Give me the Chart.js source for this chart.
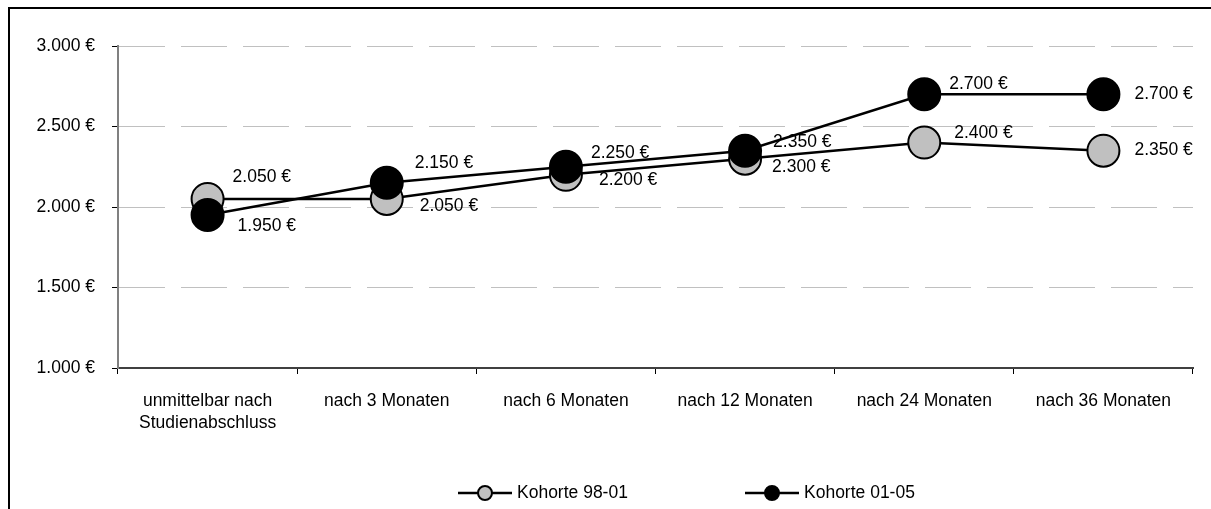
<!DOCTYPE html>
<html>
<head>
<meta charset="utf-8">
<script src="https://cdn.jsdelivr.net/npm/chart.js@4/dist/chart.umd.min.js"></script>
<style>
  html, body { margin: 0; padding: 0; background: #fff; overflow: hidden; }
  #wrap { position: relative; width: 1211px; height: 509px; }
  #frame { position: absolute; left: 8px; top: 7px; width: 1300px; height: 600px;
           border: 2px solid #000; pointer-events: none; }
  canvas { position: absolute; left: 0; top: 0; }
</style>
</head>
<body>
<div id="wrap">
  <canvas id="chart" width="1211" height="509"></canvas>
  <div id="frame"></div>
</div>
<script>
// categories and series
var categories = [['unmittelbar nach', 'Studienabschluss'], 'nach 3 Monaten', 'nach 6 Monaten',
                  'nach 12 Monaten', 'nach 24 Monaten', 'nach 36 Monaten'];
var kohorte9801 = [2050, 2050, 2200, 2300, 2400, 2350];
var kohorte0105 = [1950, 2150, 2250, 2350, 2700, 2700];
var seriesNames = ['Kohorte 98-01', 'Kohorte 01-05'];
var yTicks = [1000, 1500, 2000, 2500, 3000];

var FONT = '"Liberation Sans", Arial, sans-serif';
var FONT_SIZE = 17.5;

function euro(v) {
  return String(Math.round(v)).replace(/\B(?=(\d{3})+(?!\d))/g, '.') + ' \u20ac';
}

// value labels next to each point (offsets in px from the marker)
var valueLabels = {
  id: 'valueLabels',
  afterDatasetsDraw: function(chart, args, opts) {
    var ctx = chart.ctx;
    ctx.save();
    ctx.font = FONT_SIZE + 'px ' + FONT;
    ctx.fillStyle = '#000';
    ctx.textAlign = 'left';
    ctx.textBaseline = 'middle';
    chart.data.datasets.forEach(function(ds, di) {
      var meta = chart.getDatasetMeta(di);
      var off = opts.offsets[di];
      meta.data.forEach(function(pt, i) {
        ctx.fillText(euro(ds.data[i]), pt.x + off.dx[i], pt.y + off.dy[i]);
      });
    });
    ctx.restore();
  }
};

// legend: line with marker, then the series name
var lineLegend = {
  id: 'lineLegend',
  afterDraw: function(chart, args, opts) {
    var ctx = chart.ctx;
    ctx.save();
    ctx.font = FONT_SIZE + 'px ' + FONT;
    ctx.textBaseline = 'middle';
    ctx.textAlign = 'left';
    chart.data.datasets.forEach(function(ds, di) {
      var x = opts.x[di], y = opts.y;
      ctx.strokeStyle = '#000';
      ctx.lineWidth = 2.5;
      ctx.beginPath();
      ctx.moveTo(x, y);
      ctx.lineTo(x + 54, y);
      ctx.stroke();
      ctx.beginPath();
      ctx.arc(x + 27, y, 7, 0, Math.PI * 2);
      ctx.fillStyle = ds.pointBackgroundColor;
      ctx.fill();
      ctx.lineWidth = 2;
      ctx.stroke();
      ctx.fillStyle = '#000';
      ctx.fillText(ds.label, x + 59, y);
    });
    ctx.restore();
  }
};

new Chart(document.getElementById('chart').getContext('2d'), {
  type: 'line',
  data: {
    labels: categories,
    datasets: [
      {
        label: seriesNames[0],
        data: kohorte9801,
        order: 1,
        borderColor: '#000',
        borderWidth: 2.5,
        pointRadius: 16,
        pointHoverRadius: 16,
        pointBorderWidth: 2,
        pointBorderColor: '#000',
        pointBackgroundColor: '#c0c0c0',
        tension: 0
      },
      {
        label: seriesNames[1],
        data: kohorte0105,
        order: 0,
        borderColor: '#000',
        borderWidth: 2.5,
        pointRadius: 16,
        pointHoverRadius: 16,
        pointBorderWidth: 2,
        pointBorderColor: '#000',
        pointBackgroundColor: '#000',
        tension: 0
      }
    ]
  },
  options: {
    responsive: false,
    animation: false,
    layout: { padding: { left: 0, top: 46, right: 17, bottom: 0 } },
    plugins: {
      legend: { display: false },
      tooltip: { enabled: false },
      valueLabels: {
        offsets: [
          { dx: [25, 33, 33, 27, 30, 31], dy: [-22, 7, 5, 8, -9, 0] },
          { dx: [30, 28, 25, 28, 25, 31], dy: [11, -20, -14, -8, -10, 0] }
        ]
      },
      lineLegend: { x: [458, 745], y: 493 }
    },
    scales: {
      x: {
        offset: true,
        afterFit: function(scale) { scale.height = 141; },
        grid: { offset: true, drawOnChartArea: false, tickLength: 6, tickColor: '#000', lineWidth: 1 },
        border: { color: '#404040', width: 2 },
        ticks: { color: '#000', padding: 16, maxRotation: 0, autoSkip: false,
                 font: { family: FONT, size: FONT_SIZE, lineHeight: 1.25 } }
      },
      y: {
        min: 1000,
        max: 3000,
        afterFit: function(scale) { scale.width = 118; },
        afterBuildTicks: function(scale) {
          scale.ticks = yTicks.map(function(v) { return { value: v }; });
        },
        grid: { color: '#c0c0c0', lineWidth: 1, tickLength: 6, tickColor: '#000', tickBorderDash: [] },
        border: { color: '#808080', width: 2, dash: [46, 16] },
        ticks: { color: '#000', padding: 17, callback: function(v) { return euro(v); },
                 font: { family: FONT, size: FONT_SIZE } }
      }
    }
  },
  plugins: [valueLabels, lineLegend]
});
</script>
</body>
</html>
